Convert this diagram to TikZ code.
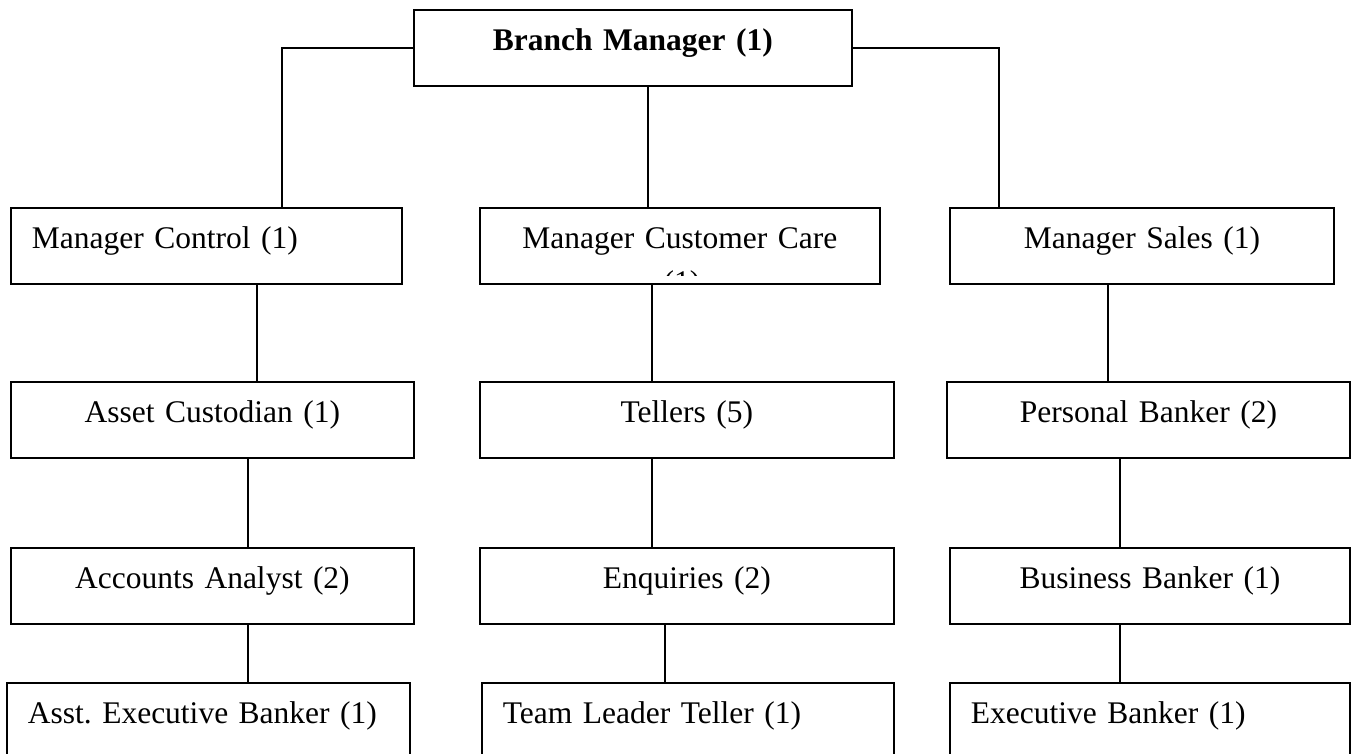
\documentclass[tikz,border=0pt]{standalone}
\usepackage{fontspec}
\setmainfont{Liberation Serif}
\frenchspacing
\begin{document}
\begin{tikzpicture}[x=1pt, y=-1pt,
  post/.style={draw, line width=1.8pt, anchor=north west, inner xsep=21pt, inner ysep=20pt,
    text height=21pt, text depth=15pt, font=\fontsize{31.5}{40}\selectfont},
  link/.style={line width=1.5pt}]
  \useasboundingbox (0,0) rectangle (1351,754);
  \clip (0,0) rectangle (1351,754);

  % head of branch
  \node[post, text width=396pt, align=center, font=\fontsize{31.5}{40}\selectfont\bfseries] (bm) at (413,9) {Branch Manager (1)};

  % managers
  \node[post, text width=349pt, align=left] (mc) at (10,207) {Manager Control (1)};
  \node[post, text width=358pt, align=center] (mcc) at (479,207) {Manager Customer Care};
  \node[post, text width=342pt, align=center] (ms) at (949,207) {Manager Sales (1)};

  % second level
  \node[post, text width=361pt, align=center] (ac) at (10,381) {Asset Custodian (1)};
  \node[post, text width=372pt, align=center] (tel) at (479,381) {Tellers (5)};
  \node[post, text width=361pt, align=center] (pb) at (946,381) {Personal Banker (2)};

  % third level
  \node[post, text width=361pt, align=center] (aa) at (10,547) {Accounts Analyst (2)};
  \node[post, text width=372pt, align=center] (enq) at (479,547) {Enquiries (2)};
  \node[post, text width=358pt, align=center] (bb) at (949,547) {Business Banker (1)};

  % fourth level
  \node[post, text width=361pt, align=left] (aeb) at (6,682) {Asst. Executive Banker (1)};
  \node[post, text width=370pt, align=left] (tlt) at (481,682) {Team Leader Teller (1)};
  \node[post, text width=358pt, align=left] (eb) at (949,682) {Executive Banker (1)};

  % second line of the customer care box, cut off by the box
  \begin{scope}
    \clip (mcc.north west) rectangle ([yshift=9]mcc.south east);
    \node[font=\fontsize{31.5}{40}\selectfont, anchor=base, inner sep=0pt] (mccn) at (682,292) {(1)};
  \end{scope}

  % links
  \draw[link] (bm.west) -| ([xshift=272]mc.north west);
  \draw[link] (bm.east) -| ([xshift=50]ms.north west);
  \foreach \lo/\up/\dx in {mcc/bm/169, ac/mc/247, tel/mcc/173, pb/ms/162,
                          aa/ac/238, enq/tel/173, bb/pb/171,
                          aeb/aa/242, tlt/enq/184, eb/bb/171}
    \draw[link] ([xshift=\dx]\lo.north west) coordinate (t) -- (t |- \up.south);
\end{tikzpicture}
\end{document}
